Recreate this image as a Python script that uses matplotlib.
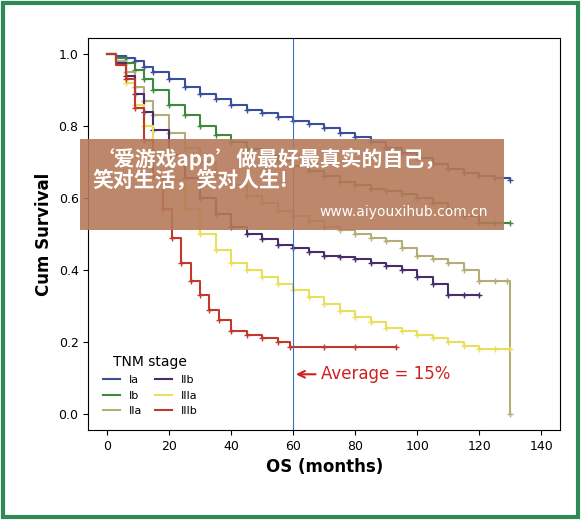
import matplotlib
matplotlib.use("Agg")
import matplotlib.pyplot as plt
from matplotlib.patches import Rectangle

plt.rcParams['font.family'] = ['DejaVu Sans', 'Noto Sans CJK SC']

t_ia = [0,3,6,9,12,15,20,25,30,35,40,45,50,55,60,65,70,75,80,85,90,95,100,105,110,115,120,125,130]
s_ia = [1.0,0.995,0.99,0.98,0.965,0.95,0.93,0.91,0.89,0.875,0.86,0.845,0.835,0.825,0.815,0.805,0.795,0.78,0.77,0.755,0.74,0.725,0.71,0.695,0.68,0.67,0.66,0.655,0.65]
t_ib = [0,3,6,9,12,15,20,25,30,35,40,45,50,55,60,65,70,75,80,85,90,95,100,105,110,115,120,125,130]
s_ib = [1.0,0.99,0.975,0.955,0.93,0.9,0.86,0.83,0.80,0.775,0.755,0.735,0.72,0.705,0.69,0.675,0.66,0.645,0.635,0.625,0.62,0.61,0.60,0.585,0.57,0.55,0.53,0.53,0.53]
t_iia = [0,3,6,9,12,15,20,25,30,35,40,45,50,55,60,65,70,75,80,85,90,95,100,105,110,115,120,125,129,130]
s_iia = [1.0,0.98,0.95,0.91,0.87,0.83,0.78,0.74,0.70,0.665,0.635,0.605,0.585,0.565,0.55,0.535,0.52,0.51,0.50,0.49,0.48,0.46,0.44,0.43,0.42,0.40,0.37,0.37,0.37,0.0]
t_iib = [0,3,6,9,12,15,20,25,30,35,40,45,50,55,60,65,70,75,80,85,90,95,100,105,110,115,120]
s_iib = [1.0,0.975,0.94,0.89,0.84,0.79,0.72,0.655,0.60,0.555,0.52,0.50,0.485,0.47,0.46,0.45,0.44,0.435,0.43,0.42,0.41,0.40,0.38,0.36,0.33,0.33,0.33]
t_iiia = [0,3,6,9,12,15,20,25,30,35,40,45,50,55,60,65,70,75,80,85,90,95,100,105,110,115,120,125,130]
s_iiia = [1.0,0.97,0.92,0.86,0.80,0.73,0.65,0.57,0.50,0.455,0.42,0.40,0.38,0.36,0.345,0.325,0.305,0.285,0.27,0.255,0.24,0.23,0.22,0.21,0.20,0.19,0.18,0.18,0.18]
t_iiib = [0,3,6,9,12,15,18,21,24,27,30,33,36,40,45,50,55,59,70,80,93]
s_iiib = [1.0,0.97,0.93,0.85,0.76,0.66,0.57,0.49,0.42,0.37,0.33,0.29,0.26,0.23,0.22,0.21,0.20,0.185,0.185,0.185,0.185]

series = [("Ia", t_ia, s_ia, "#3a4f9b"), ("Ib", t_ib, s_ib, "#3d8a3d"),
          ("IIa", t_iia, s_iia, "#b5ad78"), ("IIb", t_iib, s_iib, "#4a2c6e"),
          ("IIIa", t_iiia, s_iiia, "#e8e05a"), ("IIIb", t_iiib, s_iiib, "#c0392b")]

fig = plt.figure(figsize=(5.81, 5.20), dpi=100, facecolor="white")
fig.patches.append(Rectangle((0.005, 0.005), 0.99, 0.99, transform=fig.transFigure,
                             fill=False, edgecolor="#2e8b57", linewidth=3))
ax = fig.add_axes([0.152, 0.173, 0.812, 0.754])
ax.set_facecolor("white")
handles = {}
for name, t, s, c in series:
    h, = ax.step(t, s, where="post", color=c, lw=1.5)
    ax.plot(t[2:], s[2:], '+', color=c, ms=5)
    handles[name] = h
ax.axvline(60, color="#3a6fc1", lw=0.8)
ax.annotate("Average = 15%", xy=(60, 0.11), xytext=(69, 0.11), color="#d02020",
            fontsize=12, va="center",
            arrowprops=dict(arrowstyle="->", color="#d02020", lw=1.5))
ax.set_xlim(-6, 146)
ax.set_ylim(-0.045, 1.045)
ax.set_xticks(range(0, 141, 20))
ax.set_yticks([0, 0.2, 0.4, 0.6, 0.8, 1.0])
ax.set_yticklabels(["0.0", "0.2", "0.4", "0.6", "0.8", "1.0"])
ax.tick_params(labelsize=9)
ax.set_xlabel("OS (months)", fontsize=12, fontweight="bold")
ax.set_ylabel("Cum Survival", fontsize=12, fontweight="bold")
order = ["Ia", "Ib", "IIa", "IIb", "IIIa", "IIIb"]
ax.legend([handles[k] for k in order], order, ncol=2, title="TNM stage",
          loc="lower left", bbox_to_anchor=(0.01, 0.01), frameon=False,
          fontsize=8, handlelength=1.5, columnspacing=1.2)
fig.patches.append(Rectangle((0.138, 0.557), 0.73, 0.175, transform=fig.transFigure,
                             facecolor="#b57a5a", alpha=0.9, edgecolor="none", zorder=5))
fig.text(0.16, 0.675, "‘爱游戏app’做最好最真实的自己，\n笑对生活，笑对人生!", color="white",
         fontsize=15, fontweight="bold", va="center", zorder=6,
         family=['Noto Sans CJK SC', 'DejaVu Sans'], linespacing=1.0)
fig.text(0.84, 0.592, "www.aiyouxihub.com.cn", color="white", fontsize=10,
         ha="right", va="center", zorder=6)
fig.savefig("out.png", dpi=100, facecolor=fig.get_facecolor())
